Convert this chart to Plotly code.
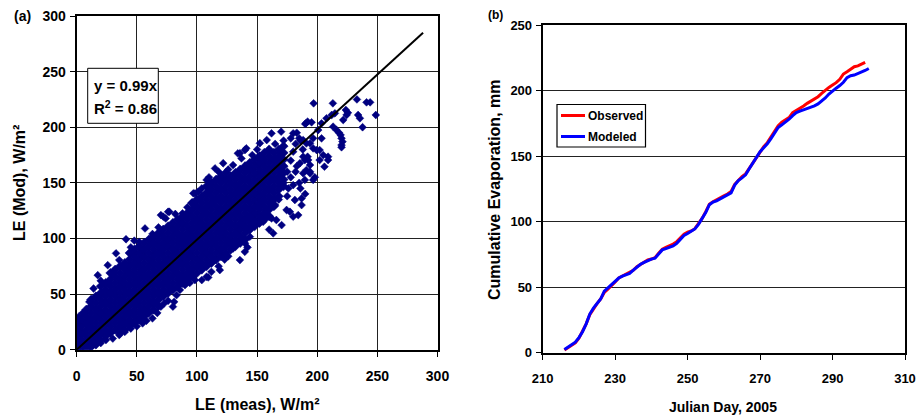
import plotly.graph_objects as go

# ---------------- Panel (a): LE scatter ----------------
# dense core of the cloud, read column by column (LE meas -> LE mod values)
core_meas = [0, 4, 8, 12, 16, 20, 24, 28, 32, 36, 40, 44, 48, 52, 56, 60, 64, 68, 72, 76,
             80, 84, 88, 92, 96, 100, 104, 108, 112, 116, 120, 124, 128, 132, 136, 140,
             144, 148, 152, 156, 160, 164, 168, 172]
core_mod = [
    [0, 6, 12, 18, 24],
    [3, 9, 15, 21, 27],
    [0, 6, 12, 18, 24, 30, 36],
    [3, 9, 15, 21, 27, 33, 39, 45],
    [6, 12, 18, 24, 30, 36, 42, 48],
    [9, 15, 21, 27, 33, 39, 45, 51, 57],
    [12, 18, 24, 30, 36, 42, 48, 54, 60],
    [15, 21, 27, 33, 39, 45, 51, 57, 63, 69],
    [18, 24, 30, 36, 42, 48, 54, 60, 66, 72],
    [15, 21, 27, 33, 39, 45, 51, 57, 63, 69, 75],
    [18, 24, 30, 36, 42, 48, 54, 60, 66, 72, 78],
    [21, 27, 33, 39, 45, 51, 57, 63, 69, 75, 81, 87],
    [24, 30, 36, 42, 48, 54, 60, 66, 72, 78, 84, 90],
    [27, 33, 39, 45, 51, 57, 63, 69, 75, 81, 87, 93],
    [30, 36, 42, 48, 54, 60, 66, 72, 78, 84, 90, 96],
    [33, 39, 45, 51, 57, 63, 69, 75, 81, 87, 93, 99],
    [36, 42, 48, 54, 60, 66, 72, 78, 84, 90, 96, 102],
    [39, 45, 51, 57, 63, 69, 75, 81, 87, 93, 99, 105],
    [48, 54, 60, 66, 72, 78, 84, 90, 96, 102, 108],
    [51, 57, 63, 69, 75, 81, 87, 93, 99, 105, 111],
    [54, 60, 66, 72, 78, 84, 90, 96, 102, 108, 114],
    [57, 63, 69, 75, 81, 87, 93, 99, 105, 111, 117],
    [60, 66, 72, 78, 84, 90, 96, 102, 108, 114, 120],
    [63, 69, 75, 81, 87, 93, 99, 105, 111, 117, 123],
    [66, 72, 78, 84, 90, 96, 102, 108, 114, 120, 126, 132],
    [69, 75, 81, 87, 93, 99, 105, 111, 117, 123, 129, 135],
    [72, 78, 84, 90, 96, 102, 108, 114, 120, 126, 132, 138],
    [75, 81, 87, 93, 99, 105, 111, 117, 123, 129, 135, 141, 147],
    [78, 84, 90, 96, 102, 108, 114, 120, 126, 132, 138, 144, 150],
    [81, 87, 93, 99, 105, 111, 117, 123, 129, 135, 141, 147, 153],
    [84, 90, 96, 102, 108, 114, 120, 126, 132, 138, 144, 150, 156],
    [87, 93, 99, 105, 111, 117, 123, 129, 135, 141, 147, 153, 159],
    [90, 96, 102, 108, 114, 120, 126, 132, 138, 144, 150, 156],
    [93, 99, 105, 111, 117, 123, 129, 135, 141, 147, 153, 159],
    [96, 102, 108, 114, 120, 126, 132, 138, 144, 150, 156, 162],
    [99, 105, 111, 117, 123, 129, 135, 141, 147, 153, 159, 165],
    [108, 114, 120, 126, 132, 138, 144, 150, 156, 162, 168],
    [111, 117, 123, 129, 135, 141, 147, 153, 159, 165, 171],
    [114, 120, 126, 132, 138, 144, 150, 156, 162, 168, 174],
    [117, 123, 129, 135, 141, 147, 153, 159, 165, 171, 177],
    [120, 126, 132, 138, 144, 150, 156, 162, 168, 174, 180],
    [129, 135, 141, 147, 153, 159, 165, 171, 177],
    [138, 144, 150, 156, 162, 168, 174, 180],
    [147, 153, 159, 165, 171, 177, 183],
]

# scattered fringe / outlier points (LE meas, LE mod)
sparse_meas = [
    3, 7.7, 12, 16, 20, 24.3, 30, 35.4, 40, 45, 50, 54.8, 58, 63, 67, 70, 72.8, 76, 81, 80,
    83, 85.8, 90, 94, 98.3, 104, 109.4, 108, 112, 119, 118, 123, 126, 130, 135.7, 139.8, 142,
    140, 144, 141.3, 146.8, 144, 151, 155, 158, 160, 163.4, 162, 166, 170.4, 177.3, 174.5,
    181.4, 184.2, 187, 180, 187, 194, 196.6, 189.7, 198,
    165, 168, 172, 175, 170, 165, 178, 180, 183, 185, 186, 190, 176, 182, 185, 188, 185.6,
    189.7, 192, 188.3, 192.5, 194, 191, 188.3, 194, 188.3, 191, 194, 196.6, 199.5, 202, 205,
    209, 209, 206, 202, 178, 182, 175, 180,
    190.6, 195.3, 200.8, 203.6, 196.6, 203.6, 207.7, 212, 214.7, 213.2, 216, 218.2, 219.4,
    220.2, 221, 220.2, 220.2, 197, 213, 233, 241, 244, 248.7, 234, 235.5, 237.7, 223.8, 224.4,
    225.5, 221.6,
    134, 141, 139.9, 135.7, 137, 121.8, 115, 108, 101, 97, 95.6, 98.3, 97, 152.3, 158, 162,
    170, 180, 190, 192, 76, 72, 56.8, 41, 47.9, 74, 70, 77, 88, 25.8, 17.5, 32.7, 35.4, 30,
    10.5, 0.8, 2, 5, 14, 20, 45, 52, 63, 68, 82, 92, 104, 110, 118, 126, 130, 146, 150, 165,
    172, 178, 183, 186, 0, 1,
]
sparse_mod = [
    0.5, 1.2, 2, 4, 6, 8.7, 10, 13.2, 16, 19, 21, 23.7, 26, 28.2, 33, 38.7, 41.7, 44, 43, 38.7,
    49, 53.7, 58, 60, 62.6, 62.6, 65, 65.6, 70, 71.6, 75, 81, 84, 91, 80.6, 88, 92,
    95.6, 101.6, 107.6, 113.6, 119.6, 128.5, 115, 122.6, 108, 104.6, 118, 116.6, 112, 124, 125.6,
    134.6, 121, 130, 119.6, 136, 158.6, 152.6, 152.6, 155,
    130, 135, 150, 160, 165, 172, 170, 178, 165, 150, 145, 140, 145, 185, 190, 180, 167.6,
    170.5, 173.5, 173.5, 170.5, 166, 161.5, 158.6, 160, 188.5, 185.5, 185.5, 181, 179.5, 179.5, 175,
    173.5, 170.5, 164.5, 170.5, 155, 160, 138, 148,
    203.5, 204.4, 197.5, 190, 190, 203.5, 208, 211, 212.5, 200.5, 197.5, 195, 193,
    190, 187, 184, 182, 221.5, 221.5, 225, 222.4, 222.4, 211, 211, 208, 200, 215.5, 211,
    213, 206.5,
    176.5, 181, 179.5, 176.6, 172, 167.6, 163, 152.6, 142, 140.6, 131.6, 140.6, 131.6, 185.6, 188.5, 194.5,
    196, 194.5, 203, 205, 124, 119.6, 109, 99.3, 98, 118, 121, 124, 122.6, 76, 67, 86.6, 80.6, 68.7,
    43, 26.7, 30, 33, 55, 62, 92, 97, 104, 110, 122, 128, 145, 155, 160, 162, 166, 175, 180, 185,
    188, 190, 195, 188, 8, 15,
]

# fitted line y = 0.99x
fit_meas = [0, 288]
fit_mod = [0, 285]

# ---------------- Panel (b): cumulative evaporation ----------------
obs_day = list(range(216, 300))
obs_evap = [2, 4, 5.5, 7.5, 11, 16, 22, 29, 33.5, 37.5, 41, 46, 48.5, 51, 54, 57, 58.5, 60, 61, 63,
            65.7, 67.5, 69, 70.8, 71.5, 72.6, 75.9, 79, 80.4, 81.5, 83, 84.8, 87.3, 90.4, 92, 93,
            94.7, 98.3, 102.6, 107.7, 113.3, 115.3, 116.6, 118.4, 119.7, 121.2, 123.2, 128.6, 131.9,
            134.4, 136.5, 140.8, 145.1, 149.7, 154, 157.3, 160.4, 164.5, 169.3, 173.4, 176, 177.7,
            179.5, 183.3, 184.8, 186.6, 188.4, 190.4, 192.2, 193.7, 195.5, 198, 200.6, 202.6, 204.4,
            206.2, 208.8, 212.8, 214.6, 216.6, 218.4, 219, 220.2, 221.7]
mod_day = list(range(216, 301))
mod_evap = [2.5, 4.5, 6, 8, 11.5, 16, 22, 29.5, 34, 38, 41, 47, 49.5, 52, 54.5, 57, 58.5, 59.5, 60.5,
            63, 65.5, 67.5, 69, 70.5, 71.5, 72.2, 75, 78.5, 79.5, 80.5, 81.5, 83.5, 86.5, 89.5, 91,
            92.5, 94.5, 98, 102.5, 107, 113, 115, 116, 117.5, 118.5, 120, 122, 128, 131.5, 133.5,
            135.8, 140.5, 145, 149.5, 153.5, 156.5, 159.5, 163.5, 168, 172, 174, 176, 178.3, 181,
            183.3, 184.5, 185.5, 186.5, 187.2, 188.5, 190, 192, 194.5, 197.5, 200, 202, 204, 206.5,
            210, 211.5, 212, 213, 214.5, 215.5, 217]

series_names = ["Observed", "Modeled"]
series_colors = ["#FF0000", "#0000FF"]

# ---------------- build ----------------
FONT = "Liberation Sans, Arial, sans-serif"
W, H = 917, 416

core_x, core_y = [], []
for xv, ys in zip(core_meas, core_mod):
    core_x += [xv] * len(ys)
    core_y += ys

mk_core = dict(symbol="diamond", size=7, color="#000080", line=dict(width=0.6, color="#000080"))
mk = dict(symbol="diamond", size=6, color="#000080", line=dict(width=0.5, color="#000080"))

fig = go.Figure()
fig.add_trace(go.Scatter(x=core_x, y=core_y, mode="markers", marker=mk_core,
                         showlegend=False, xaxis="x", yaxis="y"))
fig.add_trace(go.Scatter(x=sparse_meas, y=sparse_mod, mode="markers", marker=mk,
                         showlegend=False, xaxis="x", yaxis="y"))
fig.add_trace(go.Scatter(x=fit_meas, y=fit_mod, mode="lines",
                         line=dict(color="black", width=2), showlegend=False,
                         xaxis="x", yaxis="y"))

fig.add_trace(go.Scatter(x=obs_day, y=obs_evap, mode="lines", name=series_names[0],
                         line=dict(color=series_colors[0], width=3), showlegend=False,
                         xaxis="x2", yaxis="y2"))
fig.add_trace(go.Scatter(x=mod_day, y=mod_evap, mode="lines", name=series_names[1],
                         line=dict(color=series_colors[1], width=3), showlegend=False,
                         xaxis="x2", yaxis="y2"))

def px_x(p):
    return p / W

def px_y(p):
    return 1 - p / H

tick14 = dict(family=FONT, size=14, color="black", weight="bold")
tick13 = dict(family=FONT, size=13, color="black", weight="bold")

axis_common = dict(showline=True, linecolor="black", linewidth=2, mirror=True,
                   ticks="outside", ticklen=5, tickcolor="black", tickwidth=1,
                   zeroline=False, fixedrange=True, automargin=False)

fig.update_layout(
    template="none",
    width=W, height=H,
    margin=dict(l=0, r=0, t=0, b=0, pad=0),
    paper_bgcolor="white", plot_bgcolor="white",
    showlegend=False,
    xaxis=dict(domain=[px_x(76.7), px_x(437.5)], range=[0, 300], dtick=50, tick0=0,
               showgrid=True, gridcolor="#222222", gridwidth=1, tickfont=tick14,
               ticklabelstandoff=7, anchor="y", **axis_common),
    yaxis=dict(domain=[px_y(349.7), px_y(16)], range=[0, 300], dtick=50, tick0=0,
               showgrid=True, gridcolor="#222222", gridwidth=1, tickfont=tick14,
               ticklabelstandoff=1, anchor="x", **axis_common),
    xaxis2=dict(domain=[px_x(542.7), px_x(905)], range=[210, 310], dtick=20, tick0=210,
                showgrid=False, tickfont=tick13, ticklabelstandoff=8, anchor="y2",
                **axis_common),
    yaxis2=dict(domain=[px_y(352.7), px_y(25.3)], range=[0, 250], dtick=50, tick0=0,
                showgrid=True, gridcolor="#222222", gridwidth=1, tickfont=tick13,
                ticklabelstandoff=1, anchor="x2", **axis_common),
)

# equation box in panel (a)
fig.add_shape(type="rect", xref="paper", yref="paper",
              x0=px_x(87.7), x1=px_x(158.3), y0=px_y(123.3), y1=px_y(68.3),
              line=dict(color="black", width=1), fillcolor="white", layer="above")
fig.add_annotation(text="y = 0.99x", xref="paper", yref="paper", x=px_x(92), y=px_y(85),
                   xanchor="left", yanchor="middle", showarrow=False,
                   font=dict(family=FONT, size=15, color="black", weight="bold"))
fig.add_annotation(text="R<sup>2</sup> = 0.86", xref="paper", yref="paper", x=px_x(92), y=px_y(108),
                   xanchor="left", yanchor="middle", showarrow=False,
                   font=dict(family=FONT, size=15, color="black", weight="bold"))

# legend box in panel (b)
fig.add_shape(type="rect", xref="paper", yref="paper",
              x0=px_x(557), x1=px_x(645.5), y0=px_y(147), y1=px_y(104.5),
              line=dict(color="black", width=1.2), fillcolor="white", layer="above")
for i, (nm, col) in enumerate(zip(series_names, series_colors)):
    yy = 115.5 + 21 * i
    fig.add_shape(type="line", xref="paper", yref="paper",
                  x0=px_x(561), x1=px_x(585), y0=px_y(yy), y1=px_y(yy),
                  line=dict(color=col, width=3), layer="above")
    fig.add_annotation(text=nm, xref="paper", yref="paper", x=px_x(586), y=px_y(yy),
                       xanchor="left", yanchor="middle", showarrow=False,
                       font=dict(family=FONT, size=12, color="black", weight="bold"))

# panel labels
fig.add_annotation(text="(a)", xref="paper", yref="paper", x=px_x(22), y=px_y(16),
                   xanchor="center", yanchor="middle", showarrow=False,
                   font=dict(family=FONT, size=14, color="black", weight="bold"))
fig.add_annotation(text="(b)", xref="paper", yref="paper", x=px_x(495), y=px_y(15),
                   xanchor="center", yanchor="middle", showarrow=False,
                   font=dict(family=FONT, size=12, color="black", weight="bold"))

# axis titles
fig.add_annotation(text="LE (meas), W/m²", xref="paper", yref="paper", x=px_x(257), y=px_y(404),
                   xanchor="center", yanchor="middle", showarrow=False,
                   font=dict(family=FONT, size=16, color="black", weight="bold"))
fig.add_annotation(text="LE (Mod), W/m²", xref="paper", yref="paper", x=px_x(19), y=px_y(183),
                   xanchor="center", yanchor="middle", showarrow=False, textangle=-90,
                   font=dict(family=FONT, size=16, color="black", weight="bold"))
fig.add_annotation(text="Julian Day, 2005", xref="paper", yref="paper", x=px_x(723), y=px_y(407),
                   xanchor="center", yanchor="middle", showarrow=False,
                   font=dict(family=FONT, size=14, color="black", weight="bold"))
fig.add_annotation(text="Cumulative Evaporation, mm", xref="paper", yref="paper", x=px_x(494),
                   y=px_y(189), xanchor="center", yanchor="middle", showarrow=False,
                   textangle=-90,
                   font=dict(family=FONT, size=16, color="black", weight="bold"))

fig.write_html("out.html")
